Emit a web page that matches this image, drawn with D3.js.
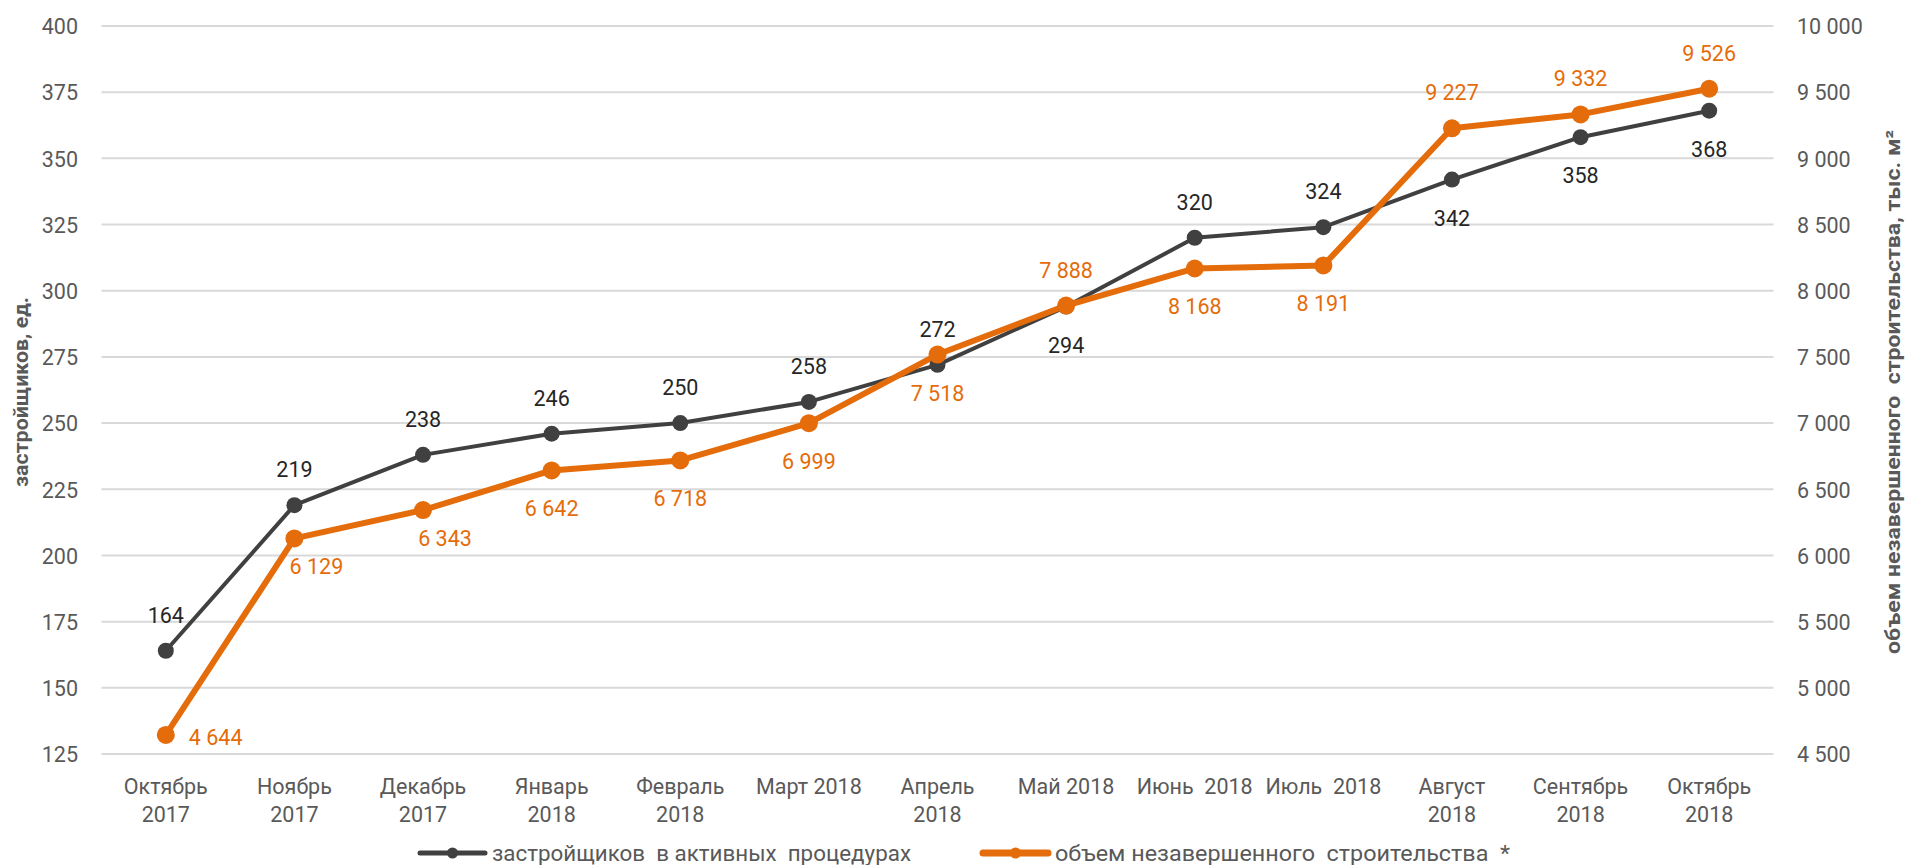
<!DOCTYPE html>
<html lang="ru">
<head>
  <meta charset="UTF-8">
  <title>Застройщики и объем незавершенного строительства</title>
  <script src="https://d3js.org/d3.v7.min.js"></script>
  <style>
    body { margin: 0; background: #fff; }
    svg { display: block; font-family: Roboto, "Open Sans", sans-serif; }
    text { white-space: pre; }
  </style>
</head>
<body>
  <div id="chart"></div>

  <script>
    // Data
    const categories = [
      "Октябрь\n2017", "Ноябрь\n2017", "Декабрь\n2017", "Январь\n2018", "Февраль\n2018",
      "Март 2018", "Апрель\n2018", "Май 2018", "Июнь  2018", "Июль  2018",
      "Август\n2018", "Сентябрь\n2018", "Октябрь\n2018"
    ];
    const developers = [164, 219, 238, 246, 250, 258, 272, 294, 320, 324, 342, 358, 368];
    const unfinished = [4644, 6129, 6343, 6642, 6718, 6999, 7518, 7888, 8168, 8191, 9227, 9332, 9526];

    // where each data label sits relative to its point
    const developersLabelPos = ["up", "up", "up", "up", "up", "up", "up", "down", "up", "up", "down", "down", "down"];
    const unfinishedLabelPos = ["right", "downright", "downright", "down", "down", "down", "down", "up", "down", "down", "up", "up", "up"];

    const leftTicks = [125, 150, 175, 200, 225, 250, 275, 300, 325, 350, 375, 400];
    const rightTicks = [4500, 5000, 5500, 6000, 6500, 7000, 7500, 8000, 8500, 9000, 9500, 10000];

    const seriesNames = ["застройщиков  в активных  процедурах", "объем незавершенного  строительства  *"];
    const leftTitle = "застройщиков, ед.";
    const rightTitle = "объем незавершенного  строительства, тыс. м²";

    const width = 1908;
    const height = 865;
    const colorDark = "#404040";
    const colorOrange = "#E46C0A";
    const gray = "#595959";

    const fmt = d3.formatLocale({ decimal: ",", thousands: " ", grouping: [3], currency: ["", ""] }).format(",d");

    const svg = d3.select("#chart")
      .append("svg")
      .attr("width", width)
      .attr("height", height);

    const x = d3.scaleBand()
      .domain(categories)
      .range([101.5, 1773.5]);
    const cx = d => x(d) + x.bandwidth() / 2;

    const yLeft = d3.scaleLinear().domain([125, 400]).range([754, 26]);
    const yRight = d3.scaleLinear().domain([4500, 10000]).range([754, 26]);

    // gridlines
    svg.append("g")
      .selectAll("line")
      .data(leftTicks)
      .join("line")
      .attr("x1", x.range()[0])
      .attr("x2", x.range()[1])
      .attr("y1", d => yLeft(d))
      .attr("y2", d => yLeft(d))
      .attr("stroke", "#D9D9D9")
      .attr("stroke-width", 2);

    // left axis
    const leftAxis = svg.append("g")
      .attr("transform", "translate(78,0)")
      .call(d3.axisLeft(yLeft).tickValues(leftTicks).tickSize(0).tickPadding(0));
    leftAxis.select(".domain").remove();
    leftAxis.selectAll("text")
      .attr("font-family", "Roboto")
      .attr("font-size", 21.5)
      .attr("fill", gray)
      .attr("dy", "0.36em");

    // right axis
    const rightAxis = svg.append("g")
      .attr("transform", "translate(1797,0)")
      .call(d3.axisRight(yRight).tickValues(rightTicks).tickFormat(fmt).tickSize(0).tickPadding(0));
    rightAxis.select(".domain").remove();
    rightAxis.selectAll("text")
      .attr("font-family", "Roboto")
      .attr("font-size", 21.5)
      .attr("fill", gray)
      .attr("dy", "0.36em");

    // category labels
    const xLabels = svg.append("g")
      .selectAll("text")
      .data(categories)
      .join("text")
      .attr("text-anchor", "middle")
      .attr("font-size", 21.5)
      .attr("fill", gray)
      .attr("x", d => cx(d))
      .attr("y", 794);
    xLabels.each(function(d) {
      const lines = d.split("\n");
      d3.select(this).selectAll("tspan")
        .data(lines)
        .join("tspan")
        .attr("x", cx(d))
        .attr("dy", (l, i) => i === 0 ? 0 : 27.5)
        .text(l => l);
    });

    // axis titles
    svg.append("text")
      .attr("transform", `translate(28,392) rotate(-90)`)
      .attr("text-anchor", "middle")
      .attr("font-size", 20)
      .attr("font-weight", "bold")
      .attr("fill", gray)
      .attr("textLength", 190)
      .attr("lengthAdjust", "spacingAndGlyphs")
      .text(leftTitle);

    svg.append("text")
      .attr("transform", `translate(1900,392) rotate(-90)`)
      .attr("text-anchor", "middle")
      .attr("font-size", 20)
      .attr("font-weight", "bold")
      .attr("fill", gray)
      .attr("textLength", 524)
      .attr("lengthAdjust", "spacingAndGlyphs")
      .text(rightTitle);

    // lines
    const lineLeft = d3.line().x((d, i) => cx(categories[i])).y(d => yLeft(d));
    const lineRight = d3.line().x((d, i) => cx(categories[i])).y(d => yRight(d));

    svg.append("path")
      .datum(developers)
      .attr("d", lineLeft)
      .attr("fill", "none")
      .attr("stroke", colorDark)
      .attr("stroke-width", 4)
      .attr("stroke-linejoin", "round");

    svg.append("path")
      .datum(unfinished)
      .attr("d", lineRight)
      .attr("fill", "none")
      .attr("stroke", colorOrange)
      .attr("stroke-width", 6)
      .attr("stroke-linejoin", "round");

    svg.append("g")
      .selectAll("circle")
      .data(developers)
      .join("circle")
      .attr("cx", (d, i) => cx(categories[i]))
      .attr("cy", d => yLeft(d))
      .attr("r", 8)
      .attr("fill", colorDark);

    svg.append("g")
      .selectAll("circle")
      .data(unfinished)
      .join("circle")
      .attr("cx", (d, i) => cx(categories[i]))
      .attr("cy", d => yRight(d))
      .attr("r", 9)
      .attr("fill", colorOrange);

    // data labels
    function placeLabel(pos) {
      if (pos === "up") return { dx: 0, dy: -28, anchor: "middle" };
      if (pos === "down") return { dx: 0, dy: 46, anchor: "middle" };
      if (pos === "downright") return { dx: 22, dy: 36, anchor: "middle" };
      return { dx: 23, dy: 10, anchor: "start" };
    }

    svg.append("g")
      .selectAll("text")
      .data(developers)
      .join("text")
      .each(function(d, i) {
        const p = placeLabel(developersLabelPos[i]);
        d3.select(this)
          .attr("x", cx(categories[i]) + p.dx)
          .attr("y", yLeft(d) + p.dy)
          .attr("text-anchor", p.anchor);
      })
      .attr("font-size", 21.5)
      .attr("fill", "#262626")
      .text(d => fmt(d));

    svg.append("g")
      .selectAll("text")
      .data(unfinished)
      .join("text")
      .each(function(d, i) {
        const p = placeLabel(unfinishedLabelPos[i]);
        d3.select(this)
          .attr("x", cx(categories[i]) + p.dx)
          .attr("y", yRight(d) + p.dy)
          .attr("text-anchor", p.anchor);
      })
      .attr("font-size", 21.5)
      .attr("fill", colorOrange)
      .text(d => fmt(d));

    // legend
    const legendItems = [
      { name: seriesNames[0], color: colorDark, x: 420, w: 5, textLen: 419 },
      { name: seriesNames[1], color: colorOrange, x: 983, w: 7, textLen: 455 }
    ];
    const legend = svg.append("g")
      .selectAll("g")
      .data(legendItems)
      .join("g")
      .attr("transform", d => `translate(${d.x},853)`);
    legend.append("line")
      .attr("x1", 0).attr("x2", 65)
      .attr("stroke", d => d.color)
      .attr("stroke-width", d => d.w)
      .attr("stroke-linecap", "round");
    legend.append("circle")
      .attr("cx", 32.5)
      .attr("r", 5.5)
      .attr("fill", d => d.color);
    legend.append("text")
      .attr("x", 72)
      .attr("y", 8)
      .attr("font-size", 22)
      .attr("fill", gray)
      .attr("textLength", d => d.textLen)
      .attr("lengthAdjust", "spacingAndGlyphs")
      .text(d => d.name);
  </script>
</body>
</html>
